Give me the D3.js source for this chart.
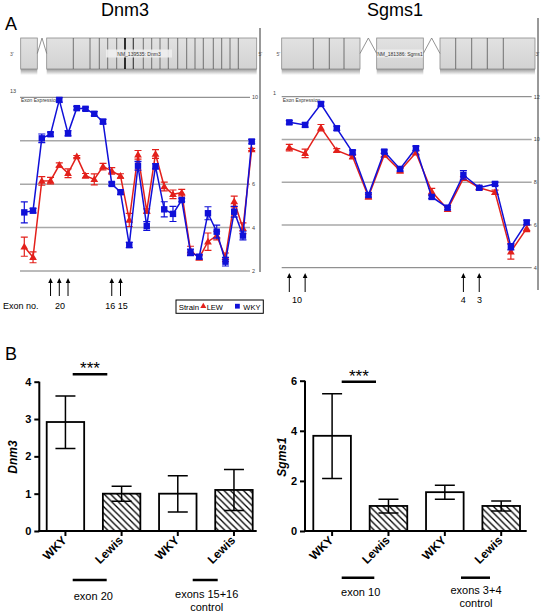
<!DOCTYPE html>
<html><head><meta charset="utf-8">
<script src="https://cdn.jsdelivr.net/npm/d3@7"></script>
<style>
html,body{margin:0;padding:0;background:#fff;}
svg{display:block;font-family:"Liberation Sans",Arial,sans-serif;}
</style></head>
<body>
<svg id="c" width="541" height="613"></svg>
<script>
// ---------- DATA ----------
// Panel A: exon expression (index = exon probe position)
const dnmBlue = [4.70,4.78,8.11,8.30,9.88,8.34,9.50,9.47,9.24,8.88,6.01,5.63,3.20,6.85,4.07,6.82,4.84,4.63,5.27,2.86,2.66,4.66,3.81,2.43,4.73,3.63,7.96];
const dnmBlueErr = [0.48,0.1,0.2,0.1,0.1,0.12,0.08,0.08,0.1,0.1,0.08,0.1,0.12,0.2,0.2,0.12,0.35,0.35,0.08,0.15,0.1,0.3,0.3,0.2,0.25,0.2,0.1];
const dnmRed = [3.12,2.63,6.15,6.16,6.88,6.50,7.27,6.39,6.22,6.81,6.61,6.38,4.35,7.35,4.76,7.39,5.89,5.53,5.61,2.94,2.61,3.35,3.63,2.63,5.20,3.97,7.60];
const dnmRedErr = [0.44,0.25,0.2,0.15,0.1,0.2,0.05,0.1,0.25,0.15,0.15,0.1,0.3,0.2,0.1,0.2,0.2,0.2,0.15,0.2,0.1,0.4,0.2,0.2,0.25,0.25,0.05];
const dnmTicks = [2,4,6,8,10];
const dnmArrowIdx = [4,5,6,11,12];

const sgBlue = [10.80,10.68,11.66,10.52,9.40,7.40,9.43,8.62,9.59,7.31,6.81,8.34,7.74,7.92,4.98,6.12];
const sgBlueErr = [0.08,0.1,0.1,0.1,0.1,0.1,0.08,0.1,0.1,0.08,0.1,0.2,0.08,0.08,0.15,0.1];
const sgRed = [9.62,9.35,10.55,9.49,9.19,7.32,9.27,8.54,9.38,7.56,6.73,8.18,7.74,7.53,4.75,5.84];
const sgRedErr = [0.15,0.2,0.15,0.08,0.08,0.1,0.08,0.1,0.08,0.15,0.1,0.08,0.08,0.1,0.35,0.15];
const sgTicks = [4,6,8,10,12];
const sgArrowIdx = [1,2,12,13];

// gene structures: exon block / boundary positions (relative units along the gene)
const dnmExonBlocks = [[0,16.6],[26,236]];
const dnmExonLines = [52.6,69.3,78.6,87,96,104.3,112.6,122.6,131,139.3,147.6,157,166,174.3,182.6,192.6,201,209.3,217.6];
const sgExonBlocks = [[0,78.3],[95,141.6],[158.3,253.3]];
const sgExonLines = [31.6,47.6,62.3,174,190,205.6,221.6];

// Panel B: qPCR
const barCats = ["WKY","Lewis","WKY ","Lewis "];
const dnmBar = [2.92,1.0,1.0,1.1];
const dnmBarLo = [2.21,0.80,0.51,0.55];
const dnmBarHi = [3.62,1.20,1.48,1.65];
const dnmBarTicks = [0,1,2,3,4];
const sgBar = [3.8,1.0,1.55,1.0];
const sgBarLo = [2.10,0.72,1.27,0.80];
const sgBarHi = [5.48,1.27,1.83,1.20];
const sgBarTicks = [0,2,4,6];

// ---------- DRAW ----------
const svg = d3.select("#c");
const defs = svg.append("defs");
const sh = defs.append("linearGradient").attr("id","shadow").attr("x1",0).attr("y1",0).attr("x2",0).attr("y2",1);
sh.append("stop").attr("offset","0%").attr("stop-color","#9a9a9a");
sh.append("stop").attr("offset","100%").attr("stop-color","#ffffff");
const gf = defs.append("linearGradient").attr("id","gfill").attr("x1",0).attr("y1",0).attr("x2",0).attr("y2",1);
gf.append("stop").attr("offset","0%").attr("stop-color","#e2e2e2");
gf.append("stop").attr("offset","100%").attr("stop-color","#d2d2d2");
const hatch = defs.append("pattern").attr("id","hatch").attr("patternUnits","userSpaceOnUse")
  .attr("width",6.5).attr("height",6.5);
hatch.append("rect").attr("width",6.5).attr("height",6.5).attr("fill","#fff");
hatch.append("path").attr("d","M0,0L6.5,6.5M-1,5.5L1,7.5M5.5,-1L7.5,1").attr("stroke","#000").attr("stroke-width",1.3);

svg.append("text").attr("x",5).attr("y",29.5).attr("font-size",18).text("A");
svg.append("text").attr("x",5).attr("y",360).attr("font-size",18).text("B");

function gene(cfg){
  const g = svg.append("g");
  g.append("text").attr("x",cfg.titleX).attr("y",16).attr("font-size",18).attr("text-anchor","middle").text(cfg.title);
  const sx = d3.scaleLinear().domain([0,1]).range([cfg.x0, cfg.x0+1]);
  const y0=38, y1=69, ym=53.5;
  cfg.blocks.forEach(b=>{
    g.append("rect").attr("x",sx(b[0])).attr("y",y1).attr("width",sx(b[1])-sx(b[0])).attr("height",6).attr("fill","url(#shadow)");
    g.append("rect").attr("x",sx(b[0])).attr("y",y0).attr("width",sx(b[1])-sx(b[0])).attr("height",y1-y0)
      .attr("fill","url(#gfill)").attr("stroke","#8a8a8a").attr("stroke-width",0.8);
  });
  for(let i=0;i<cfg.blocks.length-1;i++){
    const a=sx(cfg.blocks[i][1]), b=sx(cfg.blocks[i+1][0]);
    g.append("path").attr("d",`M${a},${ym}L${(a+b)/2},${y0}L${b},${ym}`).attr("fill","none").attr("stroke","#777").attr("stroke-width",0.8);
  }
  cfg.lines.forEach((l,i)=>{
    const dk = cfg.dark.indexOf(i);
    g.append("line").attr("x1",sx(l)).attr("x2",sx(l)).attr("y1",y0).attr("y2",y1)
      .attr("stroke", dk===0 ? "#000" : dk===1 ? "#333" : "#555").attr("stroke-width", dk===0?1.6:dk===1?1.1:0.8);
  });
  g.append("rect").attr("x",cfg.labelX-cfg.labelW/2).attr("y",ym-4).attr("width",cfg.labelW).attr("height",8).attr("fill","#eeeeee").attr("opacity",0.9);
  g.append("text").attr("x",cfg.labelX).attr("y",ym+2).attr("font-size",5).attr("text-anchor","middle").attr("fill","#333").text(cfg.label);
  g.append("text").attr("x",cfg.leftEndX).attr("y",ym+2).attr("font-size",5).attr("fill","#555").text(cfg.leftEnd);
  g.append("text").attr("x",cfg.rightEndX).attr("y",ym+2).attr("font-size",5).attr("fill","#555").text(cfg.rightEnd);
}
gene({title:"Dnm3",titleX:125,x0:20.7,blocks:dnmExonBlocks,lines:dnmExonLines,dark:[5,6],label:"NM_139535: Dnm3",labelX:139,labelW:66,leftEnd:"3'",leftEndX:10,rightEnd:"5'",rightEndX:258.5});
gene({title:"Sgms1",titleX:395,x0:281.7,blocks:sgExonBlocks,lines:sgExonLines,dark:[],label:"NM_181386: Sgms1",labelX:400,labelW:46,leftEnd:"5'",leftEndX:276.5,rightEnd:"3'",rightEndX:535.5});

function expr(cfg){
  const g = svg.append("g");
  const x = d3.scaleLinear().domain([1,cfg.blue.length]).range(cfg.xr);
  const y = d3.scaleLinear().domain([cfg.ticks[0],cfg.ticks[cfg.ticks.length-1]]).range(cfg.yr);
  g.append("line").attr("x1",cfg.vx).attr("x2",cfg.vx).attr("y1",cfg.vy[0]).attr("y2",cfg.vy[1]).attr("stroke","#333").attr("stroke-width",1);
  cfg.ticks.forEach((t,i)=>{
    const inner = i>0 && i<cfg.ticks.length-1;
    g.append("line").attr("x1",cfg.gx[0]).attr("x2",cfg.gx[1]).attr("y1",y(t)).attr("y2",y(t))
      .attr("stroke",inner?"#a8a8a8":"#777").attr("stroke-width",inner?1.5:1);
    g.append("text").attr("x",cfg.gx[1]+2).attr("y",y(t)+2).attr("font-size",5.5).attr("fill","#444").text(t);
  });
  g.append("text").attr("x",cfg.topLabel[0]).attr("y",cfg.topLabel[1]).attr("font-size",5.5).attr("fill","#444").text(cfg.topLabel[2]);
  g.append("text").attr("x",cfg.gx[0]+1).attr("y",y(cfg.ticks[cfg.ticks.length-1])+5).attr("font-size",5).attr("fill","#333").text("Exon Expression");
  function series(vals, errs, color, shape){
    const sg = g.append("g");
    sg.append("path").datum(vals).attr("fill","none").attr("stroke",color).attr("stroke-width",1.5)
      .attr("d", d3.line().x((d,i)=>x(i+1)).y(d=>y(d)));
    vals.forEach((v,i)=>{
      const cx=x(i+1), e=errs[i], w=3.5;
      sg.append("path").attr("d",`M${cx},${y(v-e)}V${y(v+e)}M${cx-w},${y(v-e)}H${cx+w}M${cx-w},${y(v+e)}H${cx+w}`)
        .attr("stroke",color).attr("stroke-width",1.2).attr("fill","none");
      if(shape==="sq"){
        sg.append("rect").attr("x",cx-3.2).attr("y",y(v)-3.2).attr("width",6.4).attr("height",6.4).attr("fill",color);
      } else {
        sg.append("path").attr("d",d3.symbol(d3.symbolTriangle,26)()).attr("transform",`translate(${cx},${y(v)+0.5})`).attr("fill",color);
      }
    });
  }
  series(cfg.red, cfg.redErr, "#e3201b", "tri");
  series(cfg.blue, cfg.blueErr, "#1010d8", "sq");
  cfg.arrows.forEach(i=>{
    const ax = x(i);
    g.append("line").attr("x1",ax).attr("x2",ax).attr("y1",cfg.ay[0]+3).attr("y2",cfg.ay[1]).attr("stroke","#000").attr("stroke-width",1);
    g.append("path").attr("d",`M${ax},${cfg.ay[0]}L${ax-2.3},${cfg.ay[0]+5}L${ax+2.3},${cfg.ay[0]+5}Z`).attr("fill","#000");
  });
  cfg.alabels.forEach(a=>{
    g.append("text").attr("x",a[0]).attr("y",a[1]).attr("font-size",9).attr("text-anchor","middle").text(a[2]);
  });
  return {x,y};
}
expr({blue:dnmBlue,blueErr:dnmBlueErr,red:dnmRed,redErr:dnmRedErr,ticks:dnmTicks,
  xr:[24.3,251.7], yr:[271,97.3], gx:[20,250], vx:260, vy:[28,272], topLabel:[10,93,"13"],
  arrows:dnmArrowIdx, ay:[278,296],
  alabels:[[60,309,"20"],[116.5,309,"16 15"]]});
expr({blue:sgBlue,blueErr:sgBlueErr,red:sgRed,redErr:sgRedErr,ticks:sgTicks,
  xr:[289.3,526.7], yr:[267.7,96.7], gx:[281.7,531.7], vx:538, vy:[18,290], topLabel:[273,95,"1"],
  arrows:sgArrowIdx, ay:[273,292],
  alabels:[[297,303,"10"],[463.3,303,"4"],[479.5,303,"3"]]});
svg.append("text").attr("x",3).attr("y",309).attr("font-size",9).text("Exon no.");
// legend
const lg = svg.append("g");
lg.append("rect").attr("x",176).attr("y",300).attr("width",87.3).attr("height",13.3).attr("fill","#fff").attr("stroke","#000").attr("stroke-width",1);
lg.append("text").attr("x",178.7).attr("y",309.5).attr("font-size",7.8).text("Strain");
lg.append("path").attr("d",d3.symbol(d3.symbolTriangle,16)()).attr("transform","translate(203.3,306.3)").attr("fill","#e3201b");
lg.append("text").attr("x",206.7).attr("y",309.5).attr("font-size",7.5).text("LEW");
lg.append("rect").attr("x",235).attr("y",303.8).attr("width",4.8).attr("height",4.8).attr("fill","#1010d8");
lg.append("text").attr("x",243.3).attr("y",309.5).attr("font-size",7.5).text("WKY");

function bars(cfg){
  const g = svg.append("g");
  const x = d3.scaleBand().domain(barCats).range(cfg.br).paddingInner(0.333).paddingOuter(0);
  const y = d3.scaleLinear().domain([0,cfg.ticks[cfg.ticks.length-1]]).range([531,cfg.ytop]);
  const ax = g.append("g").attr("transform",`translate(${cfg.axX},0)`)
    .call(d3.axisLeft(y).tickValues(cfg.ticks).tickSize(5).tickPadding(3).tickFormat(d3.format("d")));
  ax.selectAll("path,line").attr("stroke","#000").attr("stroke-width",2);
  ax.select(".domain").attr("d",`M0,${y(cfg.ticks[cfg.ticks.length-1])}V531`);
  ax.selectAll("text").attr("font-size",11).attr("font-weight","bold").attr("font-family","Liberation Sans, Arial, sans-serif").attr("fill","#000");
  g.append("text").attr("transform",`translate(${cfg.titleX},457) rotate(-90)`).attr("text-anchor","middle")
    .attr("font-size",12).attr("font-weight","bold").attr("font-style","italic").text(cfg.title);
  cfg.vals.forEach((v,i)=>{
    const c = barCats[i];
    g.append("rect").attr("x",x(c)).attr("y",y(v)).attr("width",x.bandwidth()).attr("height",531-y(v))
      .attr("fill", i%2 ? "url(#hatch)" : "#fff").attr("stroke","#000").attr("stroke-width",1.8);
  });
  cfg.vals.forEach((v,i)=>{
    const cx = x(barCats[i])+x.bandwidth()/2, w=10;
    g.append("path").attr("d",`M${cx},${y(cfg.lo[i])}V${y(cfg.hi[i])}M${cx-w},${y(cfg.hi[i])}H${cx+w}M${cx-w},${y(cfg.lo[i])}H${cx+w}`)
      .attr("stroke","#000").attr("stroke-width",1.5).attr("fill","none");
  });
  g.append("line").attr("x1",cfg.axX-1).attr("x2",cfg.axEnd).attr("y1",531).attr("y2",531).attr("stroke","#000").attr("stroke-width",2);
  barCats.forEach(c=>{
    const cx = x(c)+x.bandwidth()/2;
    g.append("line").attr("x1",cx).attr("x2",cx).attr("y1",531).attr("y2",536).attr("stroke","#000").attr("stroke-width",2);
    g.append("text").attr("transform",`translate(${cx+2},541) rotate(-45)`).attr("text-anchor","end")
      .attr("font-size",12).attr("font-weight","bold").text(c.trim());
  });
  g.append("line").attr("x1",cfg.sig[0]).attr("x2",cfg.sig[1]).attr("y1",cfg.sig[2]).attr("y2",cfg.sig[2]).attr("stroke","#000").attr("stroke-width",2.5);
  g.append("text").attr("x",(cfg.sig[0]+cfg.sig[1])/2).attr("y",cfg.sig[2]).attr("text-anchor","middle").attr("font-size",17).text("***");
  cfg.groups.forEach(gr=>{
    g.append("line").attr("x1",gr[0]).attr("x2",gr[1]).attr("y1",gr[2]).attr("y2",gr[2]).attr("stroke","#000").attr("stroke-width",2.5);
    gr[3].forEach((t,k)=>{
      g.append("text").attr("x",gr[4]).attr("y",gr[5]+k*13).attr("text-anchor","middle").attr("font-size",11).text(t);
    });
  });
}
bars({title:"Dnm3",titleX:17,vals:dnmBar,lo:dnmBarLo,hi:dnmBarHi,ticks:dnmBarTicks,br:[46.7,252.7],ytop:381.7,axX:39.3,axEnd:256.7,
  sig:[72.7,107.3,374.3],
  groups:[[72.7,106.7,580,["exon 20"],93.3,600],[192.7,217.7,580,["exons 15+16","control"],206.7,598]]});
bars({title:"Sgms1",titleX:285.5,vals:sgBar,lo:sgBarLo,hi:sgBarHi,ticks:sgBarTicks,br:[313.3,520],ytop:380.7,axX:305,axEnd:526.7,
  sig:[341.7,376,381.7],
  groups:[[341.7,374.3,577.7,["exon 10"],360.7,596],[461,490,577.7,["exons 3+4","control"],476,594]]});
</script>
</body></html>
